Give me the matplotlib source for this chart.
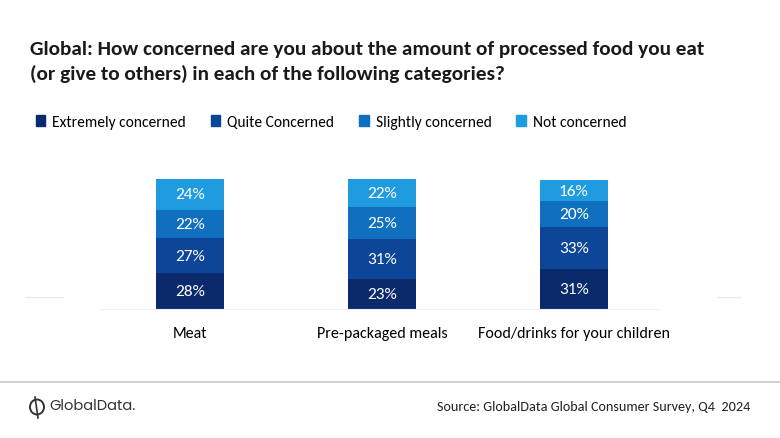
import matplotlib.pyplot as plt
from matplotlib.patches import Patch, Ellipse

categories = ["Meat", "Pre-packaged meals", "Food/drinks for your children"]
series = ["Extremely concerned", "Quite Concerned", "Slightly concerned", "Not concerned"]
extremely = [28, 23, 31]
quite = [27, 31, 33]
slightly = [22, 25, 20]
not_concerned = [24, 22, 16]
values = [extremely, quite, slightly, not_concerned]
colors = ["#0b2a6c", "#0d4698", "#1070bf", "#1f9ce0"]

FONT = ["Carlito", "Open Sans", "DejaVu Sans"]
plt.rcParams["font.family"] = FONT

fig = plt.figure(figsize=(7.8, 4.39), dpi=100)
ax = fig.add_axes([100 / 780, (439 - 310) / 439, 560 / 780, 130 / 439])

x = list(range(len(categories)))
bottom = [0, 0, 0]
for vals, name, col in zip(values, series, colors):
    ax.bar(x, vals, width=0.354, bottom=bottom, color=col, label=name)
    for xi, v, b in zip(x, vals, bottom):
        ax.text(xi, b + v / 2, f"{v}%", ha="center", va="center",
                color="white", fontsize=12.5)
    bottom = [b + v for b, v in zip(bottom, vals)]

ax.set_xlim(-0.47, 2.45)
ax.set_ylim(0, 101)
ax.set_yticks([])
ax.set_xticks(x)
ax.set_xticklabels(categories, fontsize=11.5)
ax.tick_params(axis="x", length=0, pad=12)
for s in ["top", "left", "right"]:
    ax.spines[s].set_visible(False)
ax.spines["bottom"].set_color("#eeeeee")

fig.text(30 / 780, 1 - 50 / 439, "Global: How concerned are you about the amount of processed food you eat",
         fontsize=15.3, fontweight="bold", va="center", color="#1a1a1a")
fig.text(30 / 780, 1 - 74 / 439, "(or give to others) in each of the following categories?",
         fontsize=15.3, fontweight="bold", va="center", color="#1a1a1a")

handles = [Patch(color=c, label=n) for c, n in zip(colors, series)]
fig.legend(handles=handles, loc="center left", bbox_to_anchor=(36 / 780, 1 - 123 / 439),
           ncol=4, frameon=False, handlelength=0.6, handleheight=0.7,
           handletextpad=0.45, columnspacing=1.6, borderpad=0, borderaxespad=0,
           prop={"size": 11.2})

# faint separators
for x0, x1 in [(25, 63), (717, 740)]:
    fig.add_artist(plt.Line2D([x0 / 780, x1 / 780], [1 - 298 / 439] * 2, color="#ececec", lw=1,
                              transform=fig.transFigure))
fig.add_artist(plt.Line2D([0, 1], [1 - 383 / 439] * 2, color="#c8c8c8", lw=1.2, transform=fig.transFigure))

# logo
fig.add_artist(Ellipse((37 / 780, 1 - 408 / 439), 14 / 780, 15 / 439, transform=fig.transFigure,
                       fill=False, edgecolor="#333333", lw=1.4))
fig.add_artist(plt.Line2D([35 / 780, 38 / 780], [1 - 398 / 439, 1 - 419 / 439], color="#333333",
                          lw=1.2, transform=fig.transFigure))
fig.text(49 / 780, 1 - 407 / 439, "GlobalData.", fontsize=10.5, va="center", color="#333333",
         family=["Poppins", "Montserrat", "DejaVu Sans"])
fig.text(750 / 780, 1 - 407 / 439, "Source: GlobalData Global Consumer Survey, Q4  2024",
         fontsize=10.2, va="center", ha="right", color="#222222")

fig.savefig("out.png", dpi=100, facecolor="white")
